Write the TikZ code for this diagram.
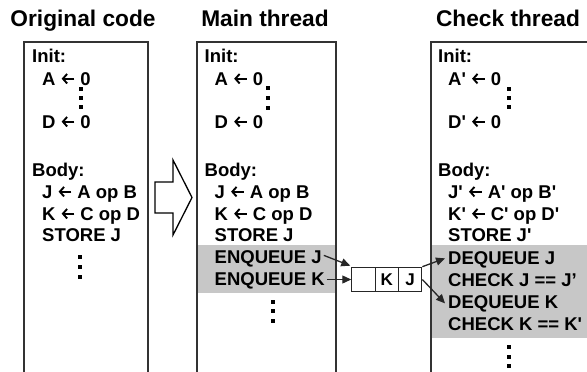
\documentclass[tikz,border=0pt]{standalone}
\usepackage{fontspec}
\newfontfamily\arial{Liberation Sans}
\usetikzlibrary{arrows.meta}
\newcommand\la{\tikz[baseline=0pt]\draw[line width=1.9pt,-{Straight Barb[length=4.2pt,width=9.5pt]}] (13.5pt,6.3pt) -- (0.8pt,6.3pt);}
\begin{document}
\begin{tikzpicture}[x=1pt,y=-1pt,
  code/.style={anchor=base west,inner sep=0pt,font=\arial\bfseries\fontsize{18.5}{18.5}\selectfont},
  ttl/.style={anchor=base,inner sep=0pt,font=\arial\bfseries\fontsize{22.7}{22.7}\selectfont},
  frame/.style={draw=black!80,line width=1.3pt},
  band/.style={fill=black!22},
  vdot/.style={fill=black,rectangle,inner sep=0pt,minimum size=3.6pt},
  conn/.style={-{Triangle[length=9pt,width=8pt]},line width=1.3pt,draw=black!85},
  cell/.style={draw=black!85,line width=1.2pt,minimum width=23.3pt,minimum height=24.4pt,inner sep=0pt,font=\arial\bfseries\fontsize{17}{17}\selectfont},
  bigarrow/.style={draw=black,line width=1.3pt,line join=miter}]
\useasboundingbox (0,0) rectangle (587,372);
\clip (0,0) rectangle (587,372);
% bands
\fill[band] (197,245) rectangle (336,293);
\fill[band] (431,245) rectangle (592,338);
% frames
\draw[frame] (24,380) -- (24,42) -- (148,42) -- (148,380);
\draw[frame] (197,380) -- (197,42) -- (336,42) -- (336,380);
\draw[frame] (431,380) -- (431,42) -- (595,42);
% titles
\node[ttl] (t1) at (83,27) {Original code};
\node[ttl] (t2) at (265,27) {Main thread};
\node[ttl] (t3) at (508,27) {Check thread};
% original code
\node[code] (o1) at (32,62) {Init:};
\node[code] (o2) at (42,85) {A \la{} 0};
\node[code] (o3) at (42,128) {D \la{} 0};
\node[code] (o4) at (32,176) {Body:};
\node[code] (o5) at (42,198) {J \la{} A op B};
\node[code] (o6) at (42,220) {K \la{} C op D};
\node[code] (o7) at (42,241) {STORE J};
% main thread
\node[code] (m1) at (204.5,62) {Init:};
\node[code] (m2) at (214.5,85) {A \la{} 0};
\node[code] (m3) at (214.5,128) {D \la{} 0};
\node[code] (m4) at (204.5,176) {Body:};
\node[code] (m5) at (214.5,198) {J \la{} A op B};
\node[code] (m6) at (214.5,220) {K \la{} C op D};
\node[code] (m7) at (214.5,241) {STORE J};
\node[code] (enqJ) at (214.5,263) {ENQUEUE J};
\node[code] (enqK) at (214.5,285) {ENQUEUE K};
% check thread
\node[code] (c1) at (438,62) {Init:};
\node[code] (c2) at (448,85) {A' \la{} 0};
\node[code] (c3) at (448,128) {D' \la{} 0};
\node[code] (c4) at (438,176) {Body:};
\node[code] (c5) at (448,198) {J' \la{} A' op B'};
\node[code] (c6) at (448,220) {K' \la{} C' op D'};
\node[code] (c7) at (448,241) {STORE J'};
\node[code] (deqJ) at (448,264) {DEQUEUE J};
\node[code] (chkJ) at (448,286) {CHECK J == J’};
\node[code] (deqK) at (448,308) {DEQUEUE K};
\node[code] (chkK) at (448,330) {CHECK K == K'};
% dots
\foreach \x/\a/\b/\c in {81/89/98/107, 268/88/98/108, 509/89/98/107, 80/257/267/277, 273/302/311/321, 509/347/357/366}{
  \node[vdot] at (\x,\a) {};
  \node[vdot] at (\x,\b) {};
  \node[vdot] at (\x,\c) {};
}
% queue
\node[cell] (q1) at (363.5,279.5) {};
\node[cell] (q2) at (386.8,279.5) {K};
\node[cell] (q3) at (410.1,279.5) {J};
% connectors
\coordinate (ks) at ([xshift=2pt]enqK.east);
\draw[conn] ([xshift=2pt,yshift=3pt]enqJ.east) -- ([xshift=-1pt,yshift=1pt]q1.north west);
\draw[conn] (ks |- q1.west) -- (q1.west);
\draw[conn] (q3.north east) -- ([xshift=-3pt,yshift=1pt]deqJ.west);
\draw[conn] (q3.east) -- ([xshift=-3pt]deqK.west);
% big arrow
\draw[bigarrow] (155,182) -- (173,182) -- (173,160) -- (192,197.5) -- (173,235) -- (173,213) -- (155,213) -- cycle;
\end{tikzpicture}
\end{document}
